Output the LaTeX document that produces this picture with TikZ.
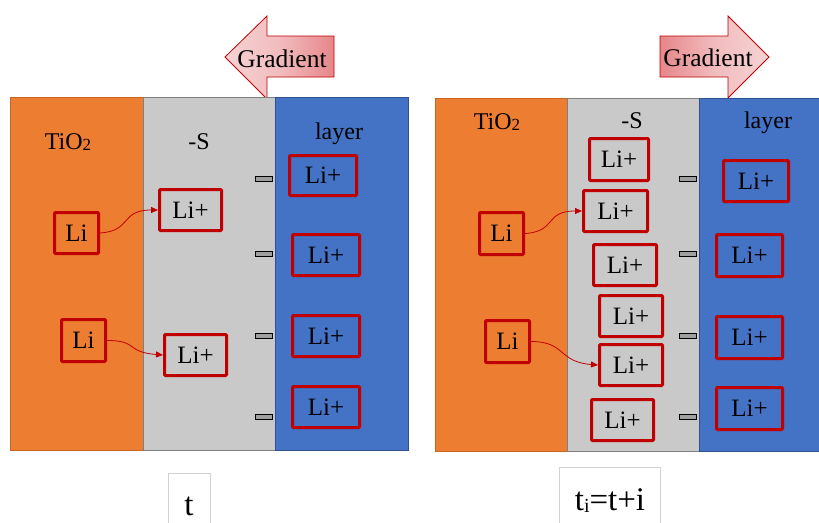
\documentclass[tikz,border=0pt]{standalone}
\usepackage{fontspec}
\setmainfont{Liberation Serif}
\usetikzlibrary{arrows.meta}
\definecolor{orng}{HTML}{ED7D31}
\definecolor{orngb}{HTML}{C9651F}
\definecolor{gry}{HTML}{C9C9C9}
\definecolor{gryb}{HTML}{7F7F7F}
\definecolor{blu}{HTML}{4472C4}
\definecolor{blub}{HTML}{2F528F}
\definecolor{redb}{HTML}{C00000}
\definecolor{pinkl}{HTML}{F6D3D4}
\definecolor{pinkd}{HTML}{E6868A}
\tikzset{
  libox/.style={draw=redb, line width=3pt, rounded corners=1pt, inner sep=0pt,
    font=\fontsize{25}{28}\selectfont, text=black},
  lbl/.style={font=\fontsize{24}{28}\selectfont, anchor=base, inner sep=0pt},
  minus/.style={draw=black, fill=gray!75, line width=0.9pt, minimum width=17pt, minimum height=5pt, inner sep=0pt},
  mv/.style={draw=redb, line width=0.8pt, -{Triangle[length=7pt,width=6pt]}},
  garrow/.style={draw=redb, line width=0.8pt},
  tbox/.style={draw=black!18, line width=0.8pt}
}
\newcommand{\subtwo}{\raisebox{-1pt}{\fontsize{17}{18}\selectfont 2}}
\begin{document}
\begin{tikzpicture}[x=1pt,y=-1pt]
\useasboundingbox (0,0) rectangle (819,522);
\begin{scope}
\clip (0,0) rectangle (819,522);
% gradient arrows
\shade[left color=pinkl, right color=pinkd, middle color=pinkl!70!pinkd]
  (225,57) -- (267,16) -- (267,36) -- (334,36) -- (334,77) -- (267,77) -- (267,99) -- cycle;
\draw[garrow] (225,57) -- (267,16) -- (267,36) -- (334,36) -- (334,77) -- (267,77) -- (267,99) -- cycle;
\shade[left color=pinkd, right color=pinkl, middle color=pinkl!70!pinkd]
  (660,36) -- (728,36) -- (728,16) -- (769,57) -- (728,98) -- (728,77) -- (660,77) -- cycle;
\draw[garrow] (660,36) -- (728,36) -- (728,16) -- (769,57) -- (728,98) -- (728,77) -- (660,77) -- cycle;
\node[font=\fontsize{25.5}{28}\selectfont, anchor=base, inner sep=0pt] (gl) at (282,67) {Gradient};
\node[font=\fontsize{25.5}{28}\selectfont, anchor=base, inner sep=0pt] (gr) at (708,66) {Gradient};

% left panel
\draw[fill=orng, draw=orngb, line width=0.8pt] (10,97) rectangle (143,450);
\draw[fill=gry, draw=gryb, line width=0.8pt] (143,97) rectangle (275,450);
\draw[fill=blu, draw=blub, line width=0.8pt] (275,97) rectangle (408,450);
% right panel
\draw[fill=orng, draw=orngb, line width=0.8pt] (435,98) rectangle (567,451);
\draw[fill=gry, draw=gryb, line width=0.8pt] (567,98) rectangle (699,451);
\draw[fill=blu, draw=blub, line width=0.8pt] (699,98) rectangle (830,451);

% labels
\node[lbl] (tio1) at (68,149) {TiO\subtwo};
\node[lbl] (s1) at (199,149) {-S};
\node[lbl] (lay1) at (339,139) {layer};
\node[lbl] (tio2) at (497,129) {TiO\subtwo};
\node[lbl] (s2) at (632,128) {-S};
\node[lbl] (lay2) at (768,128) {layer};

% minus signs
\foreach \y [count=\i] in {179,254,336,417} {
  \node[minus] (ml\i) at (264,\y) {};
  \node[minus] (mr\i) at (688,\y) {};
}

% left boxes
\node[libox, minimum width=67pt, minimum height=40pt] (b1) at (323,175.5) {Li+};
\node[libox, minimum width=67pt, minimum height=41pt] (b2) at (326,255) {Li+};
\node[libox, minimum width=67pt, minimum height=41pt] (b3) at (326,336) {Li+};
\node[libox, minimum width=67pt, minimum height=41pt] (b4) at (326,407) {Li+};
\node[libox, minimum width=62pt, minimum height=41pt] (ga) at (190.5,210) {Li+};
\node[libox, minimum width=62pt, minimum height=41pt] (gb) at (195.5,355) {Li+};
\node[libox, minimum width=44pt, minimum height=41pt] (la) at (76.5,233) {Li};
\node[libox, minimum width=44pt, minimum height=42pt] (lb) at (83.5,340.5) {Li};
\draw[mv] (la.east) .. controls +(32,-2) and +(-38,0) .. (ga.west);
\draw[mv] (lb.east) .. controls +(32,0) and +(-38,-3) .. (gb.west);

% right boxes
\node[libox, minimum width=65pt, minimum height=41pt] (B1) at (756,181) {Li+};
\node[libox, minimum width=66pt, minimum height=42pt] (B2) at (749.5,255.5) {Li+};
\node[libox, minimum width=66pt, minimum height=42pt] (B3) at (749.5,337.5) {Li+};
\node[libox, minimum width=66pt, minimum height=42pt] (B4) at (749.5,408.5) {Li+};
\node[libox, minimum width=59pt, minimum height=42pt] (G1) at (619,159.5) {Li+};
\node[libox, minimum width=64pt, minimum height=41pt] (G2) at (615.5,211) {Li+};
\node[libox, minimum width=63pt, minimum height=41pt] (G3) at (625,265) {Li+};
\node[libox, minimum width=63pt, minimum height=41pt] (G4) at (631,316) {Li+};
\node[libox, minimum width=63pt, minimum height=41pt] (G5) at (631,365) {Li+};
\node[libox, minimum width=62pt, minimum height=41pt] (G6) at (622.5,420) {Li+};
\node[libox, minimum width=44pt, minimum height=42pt] (LA) at (501.5,233.5) {Li};
\node[libox, minimum width=44pt, minimum height=42pt] (LB) at (507.5,341.5) {Li};
\draw[mv] (LA.east) .. controls +(32,-2) and +(-38,0) .. (G2.west);
\draw[mv] (LB.east) .. controls +(35,0) and +(-40,-3) .. (G5.west);

% time boxes
\draw[tbox] (168,473) rectangle (210,540);
\draw[tbox] (559,467) rectangle (660,540);
\node[font=\fontsize{33}{36}\selectfont, anchor=base, inner sep=0pt] (t1) at (189,515) {t};
\node[font=\fontsize{33}{36}\selectfont, anchor=base, inner sep=0pt] (t2) at (610,510) {t\raisebox{-2pt}{\fontsize{20}{22}\selectfont i}=t+i};
\end{scope}
\end{tikzpicture}
\end{document}
